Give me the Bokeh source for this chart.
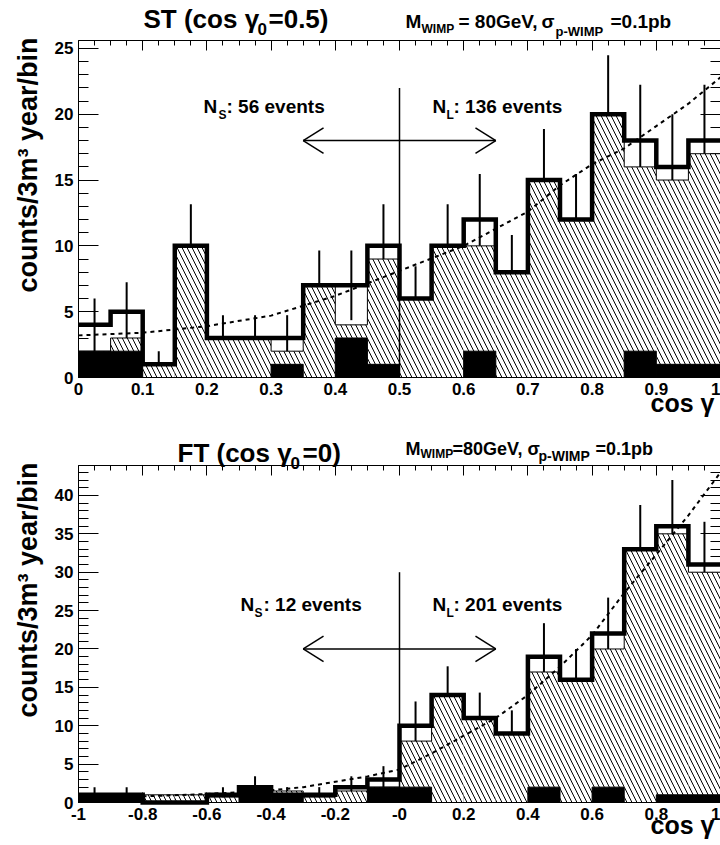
import numpy as np
from bokeh.plotting import figure
from bokeh.layouts import column
from bokeh.models import (Range1d, LinearAxis, SingleIntervalTicker,
                          CustomJSTickFormatter, Label)
from bokeh.embed import file_html
from bokeh.resources import INLINE

FONT = "Liberation Sans"

# ---------------- ST panel (cos gamma0 = 0.5) ----------------
st_edges = np.linspace(0.0, 1.0, 21)
st_total = [4, 5, 1, 10, 3, 3, 3, 7, 7, 10, 6, 10, 12, 8, 15, 12, 20, 18, 16, 18]
st_hatched = [2, 3, 1, 10, 3, 3, 2, 7, 4, 9, 6, 10, 10, 8, 15, 12, 20, 16, 15, 17]
st_black = [2, 2, 0, 0, 0, 0, 1, 0, 3, 1, 0, 0, 2, 0, 0, 0, 0, 2, 1, 1]
st_curve_x = [0.0, 0.1, 0.2, 0.3, 0.4, 0.5, 0.6, 0.7, 0.75, 0.8, 0.85, 0.9, 0.95, 1.0]
st_curve_y = [3.2, 3.4, 3.9, 4.7, 6.2, 8.1, 10.0, 12.6, 14.6, 16.2, 17.4, 19.1, 20.8, 22.8]
st_cut = 0.5
st_cut_top = 22
st_arrow = (0.35, 0.65, 18)
st_xrange = (0.0, 1.0)
st_yrange = (0.0, 25.6)

# ---------------- FT panel (cos gamma0 = 0) ----------------
ft_edges = np.linspace(-1.0, 1.0, 21)
ft_total = [1, 1, 0, 0, 1, 2, 1, 1, 2, 3, 10, 14, 11, 9, 19, 16, 22, 33, 36, 31]
ft_hatched = [0, 0, 1, 1, 0.7, 1.5, 1.5, 0.7, 1.5, 2, 8, 14, 11, 9, 17, 16, 20, 33, 35, 30]
ft_black = [1, 1, 0, 0, 0, 2, 1, 0, 0, 2, 2, 0, 0, 0, 2, 0, 2, 0, 1, 1]
ft_curve_x = [-1.0, -0.8, -0.6, -0.4, -0.3, -0.2, -0.1, 0.0, 0.1, 0.2, 0.3, 0.4, 0.5, 0.6,
              0.7, 0.8, 0.9, 1.0]
ft_curve_y = [0.7, 0.8, 1.1, 1.6, 2.0, 2.7, 3.4, 4.3, 6.4, 8.7, 11.0, 14.0, 17.7, 21.8,
              27.3, 32.3, 37.4, 43.0]
ft_cut = 0.0
ft_cut_top = 30
ft_arrow = (-0.3, 0.3, 20)
ft_xrange = (-1.0, 1.0)
ft_yrange = (0.0, 43.9)

WIDTH = 720
HEAD_ANGLE = 0.56   # arrow head half-opening (rad)
HEAD_LEN = 24       # arrow head length (px)
BASE_FIX = 0.37     # baseline correction (fraction of font size)

FMT = CustomJSTickFormatter(code="return String(Math.round(tick * 1e6) / 1e6)")
BLANK = CustomJSTickFormatter(code="return ''")


def make_fig(height, page_top, frame, xr, yr, xint, xminor, overrides):
    """frame = (left, top, bottom) of the inner plot box in figure pixels (right = WIDTH)."""
    fl, ft, fb = frame
    x0, x1 = xr
    y0, y1 = yr
    xs = (WIDTH - fl) / (x1 - x0)
    ys = (fb - ft) / (y1 - y0)
    p = figure(width=WIDTH, height=height,
               x_range=Range1d(x0 - fl / xs, x1),
               y_range=Range1d(y0 - (height - fb) / ys, y1 + ft / ys),
               output_backend="svg", toolbar_location=None, title=None,
               x_axis_type=None, y_axis_type=None, min_border=0)
    p.outline_line_color = None
    p.background_fill_color = "white"
    p.border_fill_color = "white"
    xt = SingleIntervalTicker(interval=xint, num_minor_ticks=xminor)
    yt = SingleIntervalTicker(interval=5, num_minor_ticks=5)
    for loc, tk, lab, fixed, bnds in [("below", xt, True, y0, xr), ("above", xt, False, y1, xr),
                                      ("left", yt, True, x0, yr), ("right", yt, False, x1, yr)]:
        ax = LinearAxis(ticker=tk, fixed_location=fixed, bounds=bnds, level="underlay")
        ax.axis_line_color = None
        ax.major_tick_out = 0
        ax.minor_tick_out = 0
        ax.major_tick_line_color = "black"
        ax.minor_tick_line_color = "black"
        if loc in ("left", "right"):
            ax.major_tick_in = 20
            ax.minor_tick_in = 10
        else:
            ax.major_tick_in = 10
            ax.minor_tick_in = 5
        if lab:
            ax.formatter = FMT
            ax.major_label_text_font = FONT
            ax.major_label_text_font_style = "bold"
            ax.major_label_text_font_size = "17px"
            ax.major_label_text_color = "black"
            ax.major_label_standoff = 5
            if loc == "below" and overrides:
                ax.major_label_overrides = overrides
        else:
            ax.formatter = BLANK
            ax.major_label_text_color = None
            ax.major_label_standoff = 0
        p.add_layout(ax, loc)
    p._page_top = page_top
    return p


def put(p, pieces):
    """pieces: (text, page x, page baseline y, font px)"""
    for txt, px, py, size in pieces:
        p.add_layout(Label(x=p.x_range.start, y=p.y_range.end, x_offset=px,
                           y_offset=-(py - BASE_FIX * size - p._page_top), text=txt,
                           text_font=FONT, text_font_style="bold",
                           text_font_size=f"{size}px", text_color="black",
                           text_baseline="alphabetic", text_align="left"))


def ylabel(p, center_page_y, size=27):
    p.add_layout(Label(x=p.x_range.start, y=p.y_range.end, x_offset=37 - BASE_FIX * size,
                       y_offset=-(center_page_y - p._page_top), angle=np.pi / 2,
                       text="counts/3m³ year/bin", text_font=FONT, text_font_style="bold",
                       text_font_size=f"{size}px", text_align="center",
                       text_baseline="alphabetic", text_color="black"))


def draw(p, edges, total, hatched, black, cx, cy, cut, cut_top, arrow, xr, yr):
    e = np.asarray(edges)
    T = np.asarray(total, float)
    H = np.asarray(hatched, float)
    B = np.asarray(black, float)
    left, right = e[:-1], e[1:]
    centers = 0.5 * (left + right)
    err = np.sqrt(T)
    m = T > 0
    # error bars (lower parts are covered by the hatched histogram)
    p.segment(x0=centers[m], y0=(T - err)[m], x1=centers[m], y1=(T + err)[m],
              line_color="black", line_width=2)
    # hatched histogram
    p.quad(left=left, right=right, bottom=0, top=H, fill_color="white", line_color=None,
           hatch_pattern="\\", hatch_scale=10, hatch_weight=1, hatch_color="black")
    p.step(x=e, y=np.append(H, H[-1]), mode="after", line_color="black", line_width=1)
    # black histogram
    mb = B > 0
    p.quad(left=left[mb], right=right[mb], bottom=0, top=B[mb], fill_color="black",
           line_color="black", line_width=1)
    # total histogram, thick outline
    p.step(x=e, y=np.append(T, T[-1]), mode="after", line_color="black", line_width=4.5,
           line_join="miter")
    # expectation curve
    p.line(cx, cy, line_dash="4 4", line_width=2, line_color="black")
    # cut line
    p.segment(x0=[cut], y0=[0], x1=[cut], y1=[cut_top], line_color="black", line_width=1.5)
    # double arrow: shaft + open heads
    a0, a1, ay = arrow
    p.segment(x0=[a0], y0=[ay], x1=[a1], y1=[ay], line_color="black", line_width=1.5)
    p.ray(x=[a0, a0, a1, a1], y=[ay] * 4, length=HEAD_LEN, length_units="screen",
          angle=[HEAD_ANGLE, -HEAD_ANGLE, np.pi - HEAD_ANGLE, np.pi + HEAD_ANGLE],
          line_color="black", line_width=1.5)
    # plot frame
    p.quad(left=[xr[0]], right=[xr[1]], bottom=[yr[0]], top=[yr[1]], fill_color=None,
           line_color="black", line_width=1)


# ---------- top figure (page y 0..425) ----------
p1 = make_fig(425, 0, (78, 40, 377), st_xrange, st_yrange, 0.1, 4, None)
draw(p1, st_edges, st_total, st_hatched, st_black, st_curve_x, st_curve_y,
     st_cut, st_cut_top, st_arrow, st_xrange, st_yrange)
put(p1, [
    ("ST (cos γ", 143, 28, 26), ("0", 257, 35, 17), ("=0.5)", 268, 28, 26),
    ("M", 405, 28, 19), ("WIMP", 421, 33, 12), ("= 80GeV,", 458, 28, 19),
    ("σ", 541, 28, 19), ("p-WIMP", 555, 36, 13), ("=0.1pb", 610, 28, 19),
    ("N", 203, 113, 19), ("S", 218, 119, 12), (": 56 events", 226, 113, 19),
    ("N", 432, 113, 19), ("L", 446, 119, 12), (": 136 events", 453, 113, 19),
    ("cos γ", 650, 412, 25),
])
ylabel(p1, 164.5)

# ---------- bottom figure (page y 425..845) ----------
p2 = make_fig(420, 425, (78, 40, 377), ft_xrange, ft_yrange, 0.2, 4, {0: "-0"})
draw(p2, ft_edges, ft_total, ft_hatched, ft_black, ft_curve_x, ft_curve_y,
     ft_cut, ft_cut_top, ft_arrow, ft_xrange, ft_yrange)
put(p2, [
    ("FT (cos γ", 177, 462, 26), ("0", 290, 469, 17), ("=0)", 302, 462, 26),
    ("M", 405, 455, 18), ("WIMP", 420, 458, 12), ("=80GeV,", 452, 455, 18),
    ("σ", 527, 455, 18), ("p-WIMP", 538, 461, 14), ("=0.1pb", 595, 455, 18),
    ("N", 240, 611, 19), ("S", 254, 617, 12), (": 12 events", 263, 611, 19),
    ("N", 432, 611, 19), ("L", 446, 617, 12), (": 201 events", 453, 611, 19),
    ("cos γ", 650, 834, 25),
])
ylabel(p2, 589.5)

layout = column(p1, p2, spacing=0)
open("out.html", "w").write(file_html(layout, INLINE))
